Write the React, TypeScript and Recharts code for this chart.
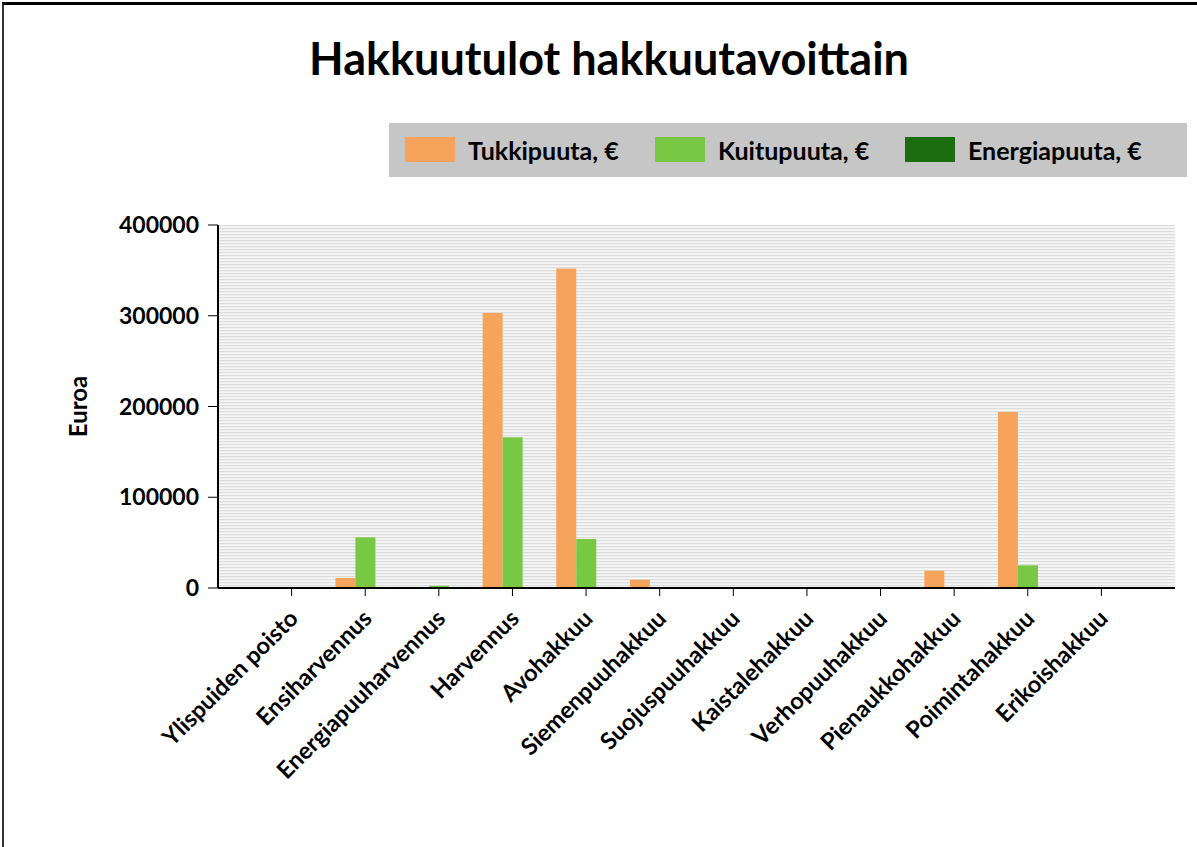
import React from "react"
import {
  BarChart, Bar, XAxis, YAxis, CartesianGrid,
} from "recharts"

const categories = [
  "Ylispuiden poisto", "Ensiharvennus", "Energiapuuharvennus", "Harvennus",
  "Avohakkuu", "Siemenpuuhakkuu", "Suojuspuuhakkuu", "Kaistalehakkuu",
  "Verhopuuhakkuu", "Pienaukkohakkuu", "Poimintahakkuu", "Erikoishakkuu",
]
const tukkipuuta = [0, 11000, 0, 303000, 352000, 9000, 0, 0, 0, 19000, 194000, 0]
const kuitupuuta = [0, 56000, 2500, 166000, 54000, 0, 0, 0, 0, 0, 25000, 0]
const energiapuuta = [0, 0, 0, 0, 0, 0, 0, 0, 0, 0, 0, 0]
const yTicks = [0, 100000, 200000, 300000, 400000]

const series = [
  { key: "tukki", name: "Tukkipuuta, €", color: "#F6A45C" },
  { key: "kuitu", name: "Kuitupuuta, €", color: "#79C843" },
  { key: "energia", name: "Energiapuuta, €", color: "#1C6D10" },
]

const data = categories.map((c, i) => ({
  nimi: c,
  tukki: tukkipuuta[i],
  kuitu: kuitupuuta[i],
  energia: energiapuuta[i],
}))

const FONT = "Lato, 'Open Sans', sans-serif"

function XTick(props: any) {
  const { x, y, payload } = props
  return (
    <text
      x={x + 8}
      y={y + 22}
      textAnchor="end"
      transform={`rotate(-45 ${x + 8} ${y + 22})`}
      fontFamily={FONT}
      fontWeight={700}
      fontSize={23.5}
      fill="#000"
    >
      {payload.value}
    </text>
  )
}

export default function App() {
  return (
    <div style={{ position: "absolute", left: 0, top: 0, width: 1197, height: 847, background: "#fff", fontFamily: FONT, overflow: "hidden" }}>
      <div style={{
        position: "absolute", left: 2, top: 2, width: 1260, height: 900,
        borderTop: "3px solid #000", borderLeft: "2px solid #333", boxSizing: "border-box",
      }} />
      <div style={{
        position: "absolute", left: 0, width: 1218, top: 31, textAlign: "center",
        fontSize: 45, fontWeight: 700, color: "#000",
      }}>
        Hakkuutulot hakkuutavoittain
      </div>
      <div style={{
        position: "absolute", left: 389, top: 123, width: 798, height: 54,
        background: "#C6C6C6",
      }}>
        {series.map((s, i) => (
          <div key={s.key} style={{ position: "absolute", left: 16 + i * 250, top: 14, height: 25, display: "flex", alignItems: "center" }}>
            <div style={{ width: 50, height: 25, background: s.color }} />
            <span style={{ marginLeft: 13, fontSize: 25, fontWeight: 700, color: "#000", whiteSpace: "nowrap" }}>{s.name}</span>
          </div>
        ))}
      </div>
      <div style={{ position: "absolute", left: 0, top: 0 }}>
        <BarChart
          width={1197}
          height={847}
          data={data}
          margin={{ top: 225, right: 22, bottom: 0, left: 0 }}
          barGap={0}
          barSize={20}
        >
          <defs>
            <pattern id="stripes" width="8" height="3" patternUnits="userSpaceOnUse">
              <rect width="8" height="3" fill="#F6F6F6" />
              <rect y="0" width="8" height="1.2" fill="#DCDCDC" />
            </pattern>
          </defs>
          <CartesianGrid fill="url(#stripes)" horizontal={false} vertical={false} />
          <XAxis
            dataKey="nimi"
            height={259}
            interval={0}
            padding={{ left: 36.8, right: 36.8 }}
            axisLine={{ stroke: "#000", strokeWidth: 2 }}
            tickLine={{ stroke: "#000" }}
            tickSize={8}
            tick={<XTick />}
          />
          <YAxis
            width={218}
            domain={[0, 400000]}
            ticks={yTicks}
            interval={0}
            axisLine={{ stroke: "#000", strokeWidth: 2 }}
            tickLine={{ stroke: "#000" }}
            tickSize={10}
            tickMargin={9}
            tick={{ fill: "#000", fontSize: 23, fontWeight: 700, fontFamily: FONT }}
            label={{
              value: "Euroa", angle: -90, position: "insideLeft", offset: 78,
              style: { fill: "#000", fontSize: 24, fontWeight: 700, fontFamily: FONT, textAnchor: "middle" },
            }}
          />
          {series.map((s) => (
            <Bar key={s.key} dataKey={s.key} name={s.name} fill={s.color} isAnimationActive={false} />
          ))}
        </BarChart>
      </div>
    </div>
  )
}
